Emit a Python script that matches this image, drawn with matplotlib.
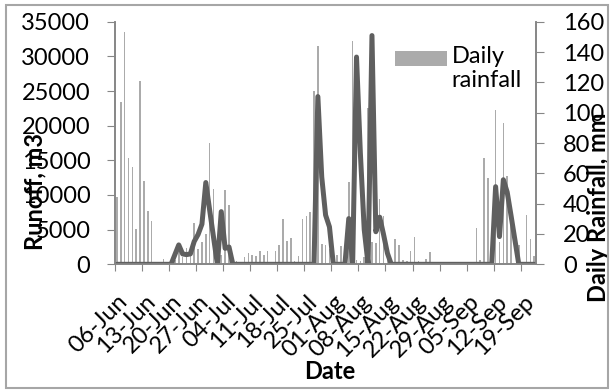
import matplotlib
matplotlib.use("Agg")
import matplotlib.pyplot as plt
import matplotlib.transforms as mtransforms
from matplotlib.patches import Rectangle
from matplotlib.legend_handler import HandlerPatch
import numpy as np

plt.rcParams['font.family'] = ['Lato', 'DejaVu Sans']

# daily values, 06-Jun .. 22-Sep
rainfall = [44.6, 107, 153, 70, 64, 23, 121, 55, 35, 28.5,
            0, 0, 3.5, 0, 0, 3, 9, 5, 10.5, 8,
            27, 10, 15, 20, 80, 49.5, 3, 6, 49, 39,
            0, 2, 0, 4.8, 7.5, 6, 5.5, 9, 6.3, 8.5,
            0, 8.5, 12.5, 30, 15.5, 17.5, 2.5, 5.8, 30, 32,
            34.5, 114, 144, 13.5, 13, 10, 5, 6, 12, 0,
            54.5, 147, 3, 2, 5, 103, 15, 14, 43, 32,
            8, 3, 17, 13, 3, 2.5, 9, 18, 2, 1.5,
            3.5, 8, 0, 0, 0, 0, 0, 0, 0, 0,
            0, 0, 0, 24, 3, 70, 57, 0, 102, 15,
            93, 58, 30, 0, 12.7, 0, 32.5, 16.5, 5.5]

runoff = [0, 0, 0, 0, 0, 0, 0, 0, 0, 0,
          0, 0, 0, 0, 0, 1400, 2800, 1500, 1400, 1500,
          3300, 4300, 5800, 11800, 7800, 3900, 0, 7600, 2300, 2500,
          0, 0, 0, 0, 0, 0, 0, 0, 0, 0,
          0, 0, 0, 0, 0, 0, 0, 0, 0, 0,
          0, 0, 24200, 12600, 7100, 5400, 0, 0, 0, 0,
          6600, 0, 29900, 16000, 5000, 0, 33000, 4700, 6800, 4300,
          1600, 0, 0, 0, 0, 0, 0, 0, 0, 0,
          0, 0, 0, 0, 0, 0, 0, 0, 0, 0,
          0, 0, 0, 0, 0, 0, 0, 0, 11200, 4000,
          12200, 10400, 7000, 3500, 0, 0, 0, 0, 0]

tick_labels = ['06-Jun', '13-Jun', '20-Jun', '27-Jun', '04-Jul', '11-Jul',
               '18-Jul', '25-Jul', '01-Aug', '08-Aug', '15-Aug', '22-Aug',
               '29-Aug', '05-Sep', '12-Sep', '19-Sep']

days = np.arange(len(rainfall)) + 0.5
grey = '#868686'
fs = 17

fig = plt.figure(figsize=(6.13, 3.91), dpi=100)
fig.patches.append(Rectangle((6/613, 3/391), 602/613, 383/391, transform=fig.transFigure,
                             fill=False, edgecolor='#A6A6A6', lw=1.5))

ax = fig.add_axes([0.1876, 0.3240, 0.6871, 0.6205])
ax2 = ax.twinx()

bars = ax2.bar(days, rainfall, width=0.4, color='#ABABAB')
ax.plot(days, runoff, color='#5F5F5F', lw=3.6,
        solid_joinstyle='round', solid_capstyle='round')
ax.set_zorder(ax2.get_zorder() + 1)
ax.patch.set_visible(False)

ax.set_xlim(0, len(rainfall))
ax.set_ylim(0, 35000)
ax2.set_ylim(0, 160)
ax.set_yticks(range(0, 35001, 5000))
ax2.set_yticks(range(0, 161, 20))
ax.set_xticks(range(0, 7 * len(tick_labels), 7))
ax.set_xticklabels(tick_labels)

for a in (ax, ax2):
    a.spines['top'].set_visible(False)
    for s in ('left', 'right', 'bottom'):
        a.spines[s].set_color(grey)
        a.spines[s].set_linewidth(1.2)

ax.tick_params(axis='y', direction='out', length=5.8, pad=12, labelsize=fs, color=grey)
ax2.tick_params(axis='y', direction='out', length=5.8, pad=13.5, labelsize=fs, color=grey)
ax.tick_params(axis='x', direction='out', length=5, pad=18.5, labelsize=fs, color=grey)

offset = mtransforms.ScaledTranslation(8 / 100, 0, fig.dpi_scale_trans)
for lab in ax.get_xticklabels():
    lab.set_rotation(45)
    lab.set_ha('right')
    lab.set_va('center_baseline')
    lab.set_rotation_mode('anchor')
    lab.set_transform(lab.get_transform() + offset)

ax.set_ylabel('Runoff, m3', fontsize=fs, fontweight='bold')
ax.yaxis.set_label_coords(-0.162, 0.302)
ax2.set_ylabel('Daily Rainfall, mm', fontsize=fs, fontweight='bold')
ax2.yaxis.set_label_coords(1.12, 0.234)
ax.set_xlabel('Date', fontsize=fs, fontweight='bold', va='top')
ax.xaxis.set_label_coords(0.51, -0.395)


def top_patch(legend, orig_handle, xdescent, ydescent, width, height, fontsize):
    return Rectangle((-xdescent, -ydescent + 7.5), width, height)


rain_handle = bars.patches[0]
ax.legend(handles=[rain_handle], labels=['Daily\nrainfall'], loc='upper left',
          bbox_to_anchor=(395 / 613, 1 - 46 / 391),
          bbox_transform=fig.transFigure, frameon=False, fontsize=fs,
          handlelength=2.2, handleheight=0.65, handletextpad=0.2, borderpad=0,
          borderaxespad=0, handler_map={rain_handle: HandlerPatch(patch_func=top_patch)})

fig.savefig('out.png', dpi=100)
